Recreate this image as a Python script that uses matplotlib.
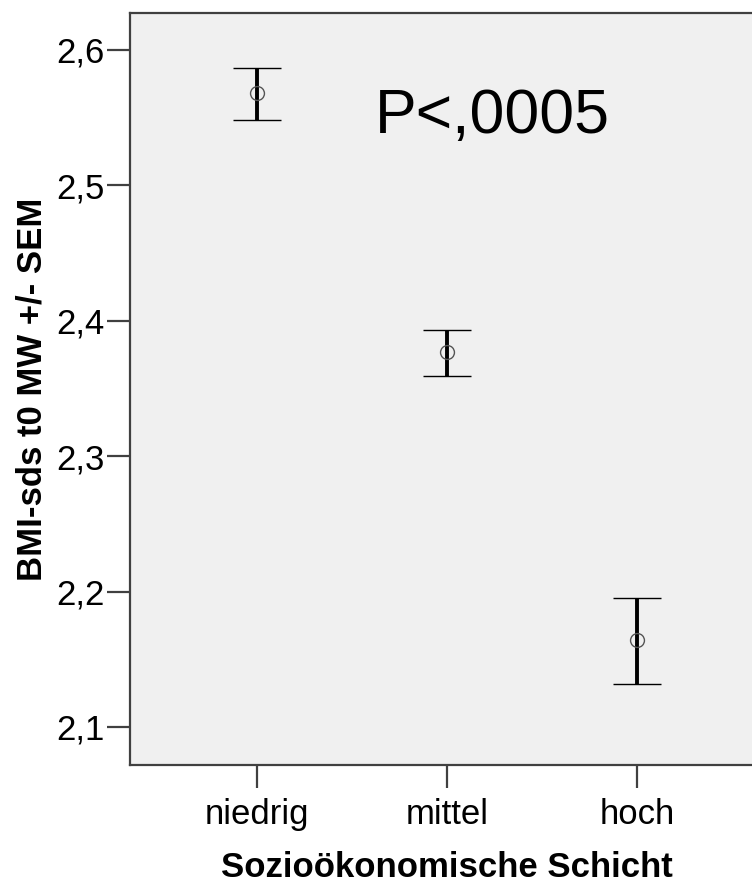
import matplotlib
matplotlib.use("Agg")
import matplotlib.pyplot as plt

# values (mean and +/- SEM)
groups = ['niedrig', 'mittel', 'hoch']
means = [2.568, 2.377, 2.164]
upper = [2.587, 2.393, 2.195]
lower = [2.548, 2.359, 2.132]
yticks = [2.1, 2.2, 2.3, 2.4, 2.5, 2.6]
yticklabels = ['2,1', '2,2', '2,3', '2,4', '2,5', '2,6']

plt.rcParams['font.family'] = ['Liberation Sans', 'DejaVu Sans']

fig = plt.figure(figsize=(7.52, 8.83), dpi=100)
W, H = 752, 883
# axes run past the right edge of the figure, as in the original export
ax = fig.add_axes([130 / W, (H - 765) / H, 634 / W, 752 / H])
ax.set_facecolor('#f0f0f0')

x = [1, 2, 3]
yerr = [[m - lo for m, lo in zip(means, lower)],
        [up - m for m, up in zip(means, upper)]]
ax.errorbar(x, means, yerr=yerr, fmt='o', mfc='none', mec='#555555', mew=1.0,
            ms=10, ecolor='black', elinewidth=2.8, capsize=17.3, capthick=2.6)

ax.set_xlim(1 / 3, 3 + 2 / 3)
ax.set_ylim(2.0719, 2.6273)
ax.set_xticks(x)
ax.set_xticklabels(groups)
ax.set_yticks(yticks)
ax.set_yticklabels(yticklabels)

for s in ax.spines.values():
    s.set_color('#404040')
    s.set_linewidth(1.6)
ax.spines['right'].set_visible(False)

ax.tick_params(axis='both', labelsize=25, length=16.5, width=1.6, color='#404040',
               direction='out')
ax.tick_params(axis='y', pad=1.5)
ax.tick_params(axis='x', pad=7)

ax.set_xlabel('Sozioökonomische Schicht', fontsize=25, fontweight='bold', labelpad=15)
ax.set_ylabel('BMI-sds t0 MW +/- SEM', fontsize=25, fontweight='bold', labelpad=6)

ax.text(1.62, 2.5387, 'P<,0005', fontsize=45, va='baseline', ha='left')

fig.savefig('out.png', dpi=100)
